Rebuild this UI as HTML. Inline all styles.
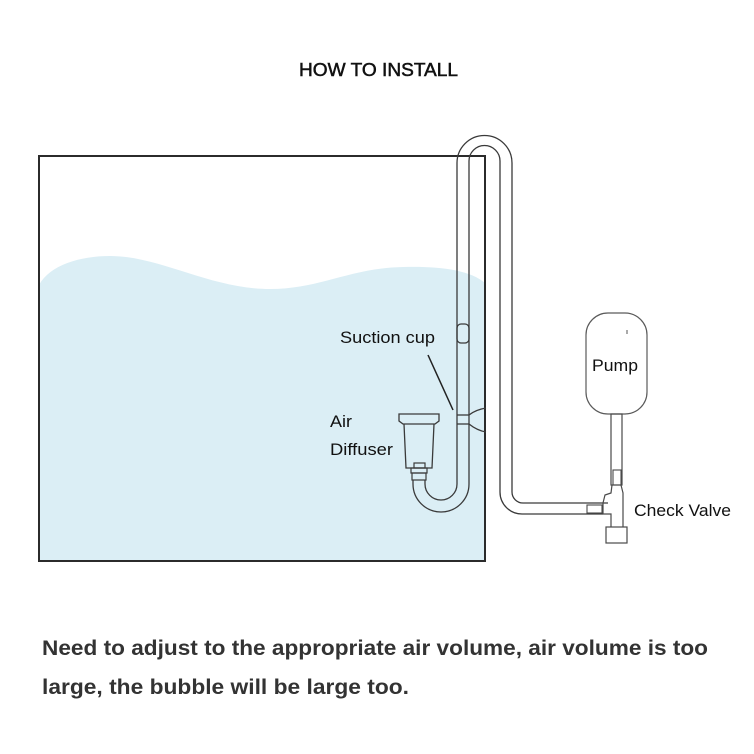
<!DOCTYPE html>
<html>
<head>
<meta charset="utf-8">
<style>
  html,body{margin:0;padding:0;background:#ffffff;}
  svg{display:block;}
  text{font-family:"Liberation Sans","DejaVu Sans",sans-serif;}
</style>
</head>
<body>
<svg width="754" height="754" viewBox="0 0 754 754" xmlns="http://www.w3.org/2000/svg">
  <rect x="0" y="0" width="754" height="754" fill="#ffffff"/>

  <!-- Title -->
  <text x="299" y="76" font-size="18" fill="#111" textLength="159" lengthAdjust="spacingAndGlyphs" stroke="#111" stroke-width="0.5">HOW TO INSTALL</text>

  <!-- Water -->
  <path d="M39,290 L39,285 C50,265 80,256 110,256 C160,256 210,289 270,289 C320,289 350,268 403,267 C440,266 470,270 485,283 L485,561 L39,561 Z" fill="#dbeef5"/>

  <!-- Tank -->
  <rect x="39" y="156" width="446" height="405" fill="none" stroke="#2b2b2b" stroke-width="2"/>

  <!-- Tube (two wall lines) -->
  <path d="M413,480 L413,484 A28,28 0 0 0 469,484 L469,161 A15.5,15.5 0 0 1 500,161 L500,492 A22,22 0 0 0 522,514 L603,514" fill="none" stroke="#3a3a3a" stroke-width="1.3"/>
  <path d="M425,480 L425,484 A16,16 0 0 0 457,484 L457,163 A27.5,27.5 0 0 1 512,163 L512,492 A11,11 0 0 0 523,503 L608,503" fill="none" stroke="#3a3a3a" stroke-width="1.3"/>

  <!-- Clip on left leg -->
  <rect x="457" y="324" width="12" height="19" rx="4" ry="4" fill="none" stroke="#3a3a3a" stroke-width="1.3"/>

  <!-- Suction cup -->
  <line x1="457" y1="415" x2="469" y2="415" stroke="#3a3a3a" stroke-width="1.3"/>
  <line x1="457" y1="424" x2="469" y2="424" stroke="#3a3a3a" stroke-width="1.3"/>
  <path d="M469,415 C474,411 480,409 486,408" fill="none" stroke="#3a3a3a" stroke-width="1.3"/>
  <path d="M469,424 C474,428 480,431 486,432" fill="none" stroke="#3a3a3a" stroke-width="1.3"/>
  <line x1="428" y1="355" x2="453" y2="410" stroke="#222" stroke-width="1.5"/>

  <!-- Air diffuser -->
  <path d="M399,414 L439,414 L439,421 L435,424 L403,424 L399,421 Z" fill="none" stroke="#3a3a3a" stroke-width="1.3"/>
  <path d="M404,424 L406,468 L432,468 L434,424" fill="none" stroke="#3a3a3a" stroke-width="1.3"/>
  <rect x="414" y="463" width="11" height="5" fill="none" stroke="#3a3a3a" stroke-width="1.2"/>
  <rect x="411" y="468" width="16" height="5" fill="none" stroke="#3a3a3a" stroke-width="1.2"/>
  <rect x="412" y="473" width="14" height="7" fill="none" stroke="#3a3a3a" stroke-width="1.2"/>

  <!-- Pump -->
  <rect x="586" y="313" width="61" height="101" rx="22" ry="22" fill="#ffffff" stroke="#5a5a5a" stroke-width="1.2"/>
  <line x1="627" y1="330" x2="627" y2="334" stroke="#555" stroke-width="1"/>
  <rect x="611" y="414" width="11" height="71" fill="none" stroke="#4a4a4a" stroke-width="1.2"/>
  <rect x="613" y="470" width="8" height="15" fill="none" stroke="#4a4a4a" stroke-width="1.1"/>

  <!-- Check valve T body -->
  <path d="M612,485 L611,493 L605,495 L603,503" fill="none" stroke="#4a4a4a" stroke-width="1.2"/>
  <path d="M603,514 L611,514 L611,527" fill="none" stroke="#4a4a4a" stroke-width="1.2"/>
  <path d="M621,485 L623,493 L623,527" fill="none" stroke="#4a4a4a" stroke-width="1.2"/>
  <line x1="603" y1="503" x2="603" y2="514" stroke="#4a4a4a" stroke-width="1.2"/>
  <rect x="587" y="505" width="15" height="8" fill="none" stroke="#4a4a4a" stroke-width="1.1"/>
  <rect x="606" y="527" width="21" height="16" fill="none" stroke="#4a4a4a" stroke-width="1.2"/>

  <!-- Labels -->
  <text x="340" y="343" font-size="17" fill="#111" textLength="95" lengthAdjust="spacingAndGlyphs">Suction cup</text>
  <text x="330" y="427" font-size="17" fill="#111" textLength="22" lengthAdjust="spacingAndGlyphs">Air</text>
  <text x="330" y="455" font-size="17" fill="#111" textLength="63" lengthAdjust="spacingAndGlyphs">Diffuser</text>
  <text x="592" y="371" font-size="17" fill="#111" textLength="46" lengthAdjust="spacingAndGlyphs">Pump</text>
  <text x="634" y="516" font-size="17" fill="#111" textLength="97" lengthAdjust="spacingAndGlyphs">Check Valve</text>

  <!-- Bottom note -->
  <text x="42" y="655" font-size="21" font-weight="bold" fill="#333" textLength="666" lengthAdjust="spacingAndGlyphs">Need to adjust to the appropriate air volume, air volume is too</text>
  <text x="42" y="694" font-size="21" font-weight="bold" fill="#333" textLength="367" lengthAdjust="spacingAndGlyphs">large, the bubble will be large too.</text>
</svg>
</body>
</html>
